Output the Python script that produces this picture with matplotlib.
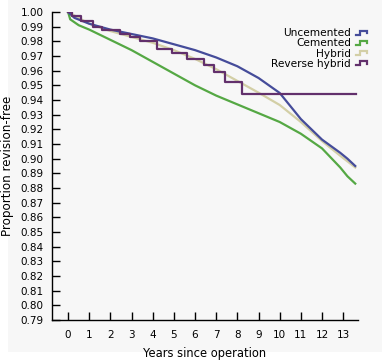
import matplotlib
matplotlib.use("Agg")
import matplotlib.pyplot as plt
from matplotlib.patches import Rectangle
from matplotlib.lines import Line2D
from matplotlib.legend_handler import HandlerBase

# Data
unc_t = [0, 0.3, 1, 2, 3, 4, 5, 6, 7, 8, 9, 10, 11, 12, 12.86, 13.2, 13.57]
unc_v = [1.0, 0.996, 0.992, 0.988, 0.985, 0.982, 0.978, 0.974, 0.969, 0.963, 0.955, 0.9448, 0.927, 0.913, 0.904, 0.900, 0.895]

cem_t = [0, 0.1, 0.5, 1, 2, 3, 4, 5, 6, 7, 8, 9, 10, 11, 12, 12.86, 13.2, 13.57]
cem_v = [1.0, 0.995, 0.991, 0.988, 0.981, 0.974, 0.966, 0.958, 0.950, 0.943, 0.937, 0.931, 0.925, 0.917, 0.907, 0.894, 0.888, 0.883]

hyb_t = [0, 1, 2, 3, 4, 5, 6, 7, 8, 9, 10, 11, 12, 12.86, 13.57]
hyb_v = [1.0, 0.992, 0.987, 0.983, 0.979, 0.974, 0.968, 0.961, 0.953, 0.945, 0.9366, 0.925, 0.912, 0.902, 0.894]

rev_t = [0, 0.2, 0.6, 1.2, 1.6, 2.46, 2.93, 3.4, 4.2, 4.9, 5.6, 6.4, 6.9, 7.4, 8.2, 13.6]
rev_v = [1.0, 0.997, 0.994, 0.990, 0.988, 0.985, 0.983, 0.9805, 0.975, 0.972, 0.968, 0.964, 0.959, 0.952, 0.944, 0.944]

labels = ["Uncemented", "Cemented", "Hybrid", "Reverse hybrid"]
colors = ["#454c9a", "#55a844", "#d3cfa6", "#62306c"]

x_ticks = list(range(0, 14))
y_ticks = [round(0.79 + 0.01 * i, 2) for i in range(22)]


class StepHandler(HandlerBase):
    def create_artists(self, legend, orig_handle, xdescent, ydescent,
                       width, height, fontsize, trans):
        w, h = width, height
        xs = [-xdescent, -xdescent + 0.35 * w, -xdescent + 0.35 * w,
              -xdescent + w, -xdescent + w]
        ys = [-ydescent + 0.2 * h, -ydescent + 0.2 * h, -ydescent + 0.75 * h,
              -ydescent + 0.75 * h, -ydescent + 0.45 * h]
        ln = Line2D(xs, ys, color=orig_handle.get_color(), lw=1.6,
                    solid_joinstyle="miter", transform=trans)
        return [ln]


fig = plt.figure(figsize=(3.82, 3.64), dpi=100)
fig.patch.set_facecolor("white")
fig.add_artist(Rectangle((8 / 382, 12 / 364), 1 - 8 / 382, 1 - 12 / 364,
                         transform=fig.transFigure, facecolor="#f7f7f7",
                         edgecolor="none", zorder=0))

ax = fig.add_axes([52 / 382, 44 / 364, (358 - 52) / 382, (320 - 12) / 364])
ax.set_facecolor("none")

lines = {}
series = {0: (unc_t, unc_v), 1: (cem_t, cem_v), 2: (hyb_t, hyb_v)}
for i in [1, 2, 0]:
    t, v = series[i]
    ln, = ax.plot(t, v, color=colors[i], lw=1.6)
    lines[i] = ln
ln, = ax.plot(rev_t, rev_v, color=colors[3], lw=1.6, drawstyle="steps-post")
lines[3] = ln

ax.set_xlim(-0.76, 13.7)
ax.set_ylim(0.79, 1.0)
ax.set_xticks(x_ticks)
ax.set_yticks(y_ticks)
ax.set_yticklabels([f"{v:.2f}" for v in y_ticks])
ax.tick_params(direction="in", length=6, width=1, labelsize=7.5, colors="black")
ax.tick_params(axis="x", pad=7)
ax.tick_params(axis="y", pad=6)
for s in ["top", "right"]:
    ax.spines[s].set_visible(False)
for s in ["left", "bottom"]:
    ax.spines[s].set_linewidth(1)

ax.set_xlabel("Years since operation", fontsize=8.3, labelpad=5)
ax.set_ylabel("Proportion revision-free", fontsize=8.6, labelpad=5)

leg = fig.legend([lines[i] for i in range(4)], labels, loc="upper right",
                 bbox_to_anchor=(372 / 382, 1 - 23 / 364), frameon=False,
                 markerfirst=False, fontsize=7.6, handlelength=1.0,
                 handletextpad=0.5, labelspacing=0.02, borderpad=0,
                 handler_map={Line2D: StepHandler()})

fig.savefig("out.png", dpi=100, facecolor=fig.get_facecolor())
